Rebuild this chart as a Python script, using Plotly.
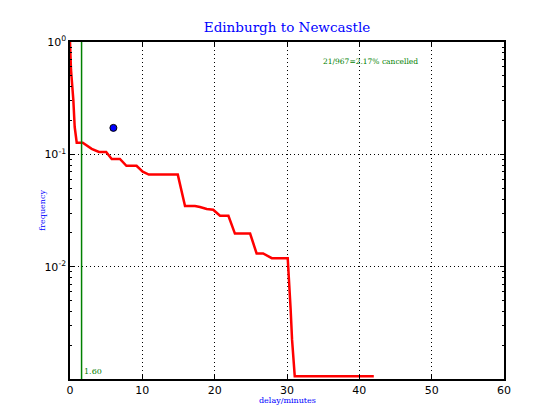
import plotly.graph_objects as go

# data
delay = [0, 0.14, 0.46, 0.65, 0.93, 1.76, 3.0, 4.0, 5.0, 5.77, 6.9, 7.8, 9.2,
         10.05, 10.9, 14.9, 15.9, 17.28, 17.97, 18.9, 19.8, 20.74, 21.9, 22.8,
         24.9, 25.8, 26.7, 27.9, 30.1, 30.3, 30.5, 30.7, 30.9, 31.07, 42]
frequency = [1.0, 0.564, 0.305, 0.175, 0.127, 0.127, 0.112, 0.105, 0.105, 0.091,
             0.091, 0.079, 0.079, 0.070, 0.066, 0.066, 0.0346, 0.0346, 0.034,
             0.0326, 0.0321, 0.0284, 0.0284, 0.0197, 0.0197, 0.0131, 0.0131,
             0.0119, 0.0119, 0.0059, 0.0042, 0.00224, 0.00148, 0.00106, 0.00106]
marker_x = [6.0]
marker_y = [0.172]
median_delay = 1.60
cancel_text = "21/967=2.17% cancelled"
x_ticks = [0, 10, 20, 30, 40, 50, 60]
y_tickvals = [1, 0.1, 0.01]
y_ticktext = ["10<sup>0</sup>", "10<sup>-1</sup>", "10<sup>-2</sup>"]
y_minor = [m * 10.0 ** e for e in (-3, -2, -1) for m in range(2, 10)]

# page body has an 8px margin; figure is sized so it fits the 560x420 window
W, H = 552, 412

fig = go.Figure()
fig.add_trace(go.Scatter(x=delay, y=frequency, mode="lines",
                         line=dict(color="#ff0000", width=2.5), showlegend=False))
fig.add_trace(go.Scatter(x=[median_delay, median_delay], y=[0.001, 1], mode="lines",
                         line=dict(color="#008000", width=1.5), showlegend=False))
fig.add_trace(go.Scatter(x=marker_x, y=marker_y, mode="markers",
                         marker=dict(color="#0000ff", size=7,
                                     line=dict(color="black", width=1)),
                         showlegend=False))
# invisible trace carrying the minor-tick axis
fig.add_trace(go.Scatter(x=[None], y=[None], yaxis="y2", showlegend=False,
                         hoverinfo="skip"))

fig.update_layout(
    width=W, height=H,
    margin=dict(l=62, r=56, t=34, b=41),
    paper_bgcolor="white", plot_bgcolor="white",
    title=dict(text="Edinburgh to Newcastle", x=(287 - 8) / W, xanchor="center",
               y=1 - 19 / H, yanchor="middle", yref="container",
               font=dict(family="DejaVu Serif", size=13.5, color="#0000ff")),
    font=dict(family="DejaVu Sans", size=11, color="black"),
    yaxis2=dict(type="log", range=[-3, 0], overlaying="y", side="left",
                tickvals=y_minor, showticklabels=False, ticks="inside", ticklen=2,
                tickcolor="black", showline=True, linecolor="rgba(0,0,0,0)",
                mirror="ticks", showgrid=False, zeroline=False),
)
fig.update_xaxes(range=[0, 60], tickvals=x_ticks, ticks="inside", ticklen=4,
                 tickcolor="black", showline=True, linecolor="black", linewidth=1.5,
                 mirror="ticks", showgrid=True, gridcolor="black", griddash="1px,3px",
                 gridwidth=1, zeroline=False, tickfont=dict(size=11))
fig.layout.yaxis.update(type="log", range=[-3, 0], tickvals=y_tickvals, ticktext=y_ticktext,
                        ticks="inside", ticklen=4, tickcolor="black", showline=True,
                        linecolor="black", linewidth=1.5, mirror="ticks", showgrid=True,
                        gridcolor="black", griddash="1px,3px", gridwidth=1, zeroline=False,
                        tickfont=dict(size=11))

fig.add_annotation(x=median_delay, y=-3, xref="x", yref="y", text="%.2f" % median_delay,
                   showarrow=False, xanchor="left", yanchor="bottom", yshift=1,
                   font=dict(family="DejaVu Serif", size=8, color="#008000"))
fig.add_annotation(x=41.5, y=-0.172, xref="x", yref="y", text=cancel_text,
                   showarrow=False, xanchor="center", yanchor="middle",
                   font=dict(family="DejaVu Serif", size=7.5, color="#008000"))
fig.add_annotation(x=0.5, y=-0.064, xref="paper", yref="paper", text="delay/minutes",
                   showarrow=False, xanchor="center", yanchor="middle",
                   font=dict(family="DejaVu Serif", size=8, color="#0000ff"))
fig.add_annotation(x=-0.064, y=0.5, xref="paper", yref="paper", text="frequency",
                   showarrow=False, xanchor="center", yanchor="middle", textangle=-90,
                   font=dict(family="DejaVu Serif", size=8, color="#0000ff"))

fig.write_html("out.html")
